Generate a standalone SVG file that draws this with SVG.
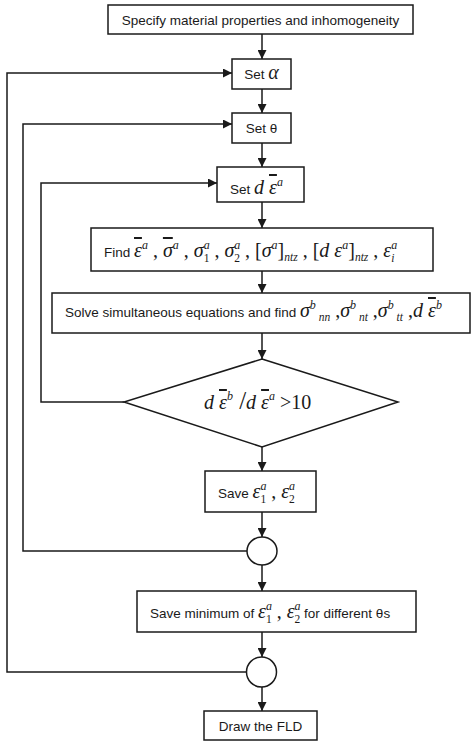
<svg xmlns="http://www.w3.org/2000/svg" width="474" height="743" viewBox="0 0 474 743">
<style>
.box{fill:#fff;stroke:#1a1a1a;stroke-width:1.5}
.ln{fill:none;stroke:#1a1a1a;stroke-width:1.5}
.s{font-family:"Liberation Sans",Arial,sans-serif;font-size:13.5px;fill:#1a1a1a;font-style:normal}
.m{font-family:"Liberation Serif","Times New Roman",serif;font-size:20px;fill:#1a1a1a}
.it{font-style:italic}
.ov{font-style:italic;text-decoration:overline}
.sp{font-size:12px;font-style:italic}
.sb{font-size:11.5px}
.sbi{font-size:11.5px;font-style:italic}
</style>
<defs>
<marker id="ah" markerUnits="userSpaceOnUse" markerWidth="9" markerHeight="9" refX="9" refY="4.5" orient="auto">
<path d="M0,0 L9,4.5 L0,9 z" fill="#1a1a1a"/>
</marker>
</defs>
<rect width="474" height="743" fill="#fff"/>
<g id="connectors">
<line class="ln" x1="262" y1="34" x2="262" y2="59" marker-end="url(#ah)"/>
<line class="ln" x1="262" y1="89" x2="262" y2="113" marker-end="url(#ah)"/>
<line class="ln" x1="262" y1="143" x2="262" y2="167" marker-end="url(#ah)"/>
<line class="ln" x1="262" y1="202" x2="262" y2="228" marker-end="url(#ah)"/>
<line class="ln" x1="262" y1="271" x2="262" y2="293" marker-end="url(#ah)"/>
<line class="ln" x1="262" y1="333" x2="262" y2="359" marker-end="url(#ah)"/>
<line class="ln" x1="262" y1="447" x2="262" y2="471" marker-end="url(#ah)"/>
<line class="ln" x1="262" y1="512" x2="262" y2="537" marker-end="url(#ah)"/>
<line class="ln" x1="262" y1="565" x2="262" y2="591" marker-end="url(#ah)"/>
<line class="ln" x1="262" y1="632" x2="262" y2="657" marker-end="url(#ah)"/>
<line class="ln" x1="262" y1="687" x2="262" y2="711" marker-end="url(#ah)"/>
<polyline class="ln" points="124,402 41,402 41,183 217,183" marker-end="url(#ah)"/>
<polyline class="ln" points="247,551 23,551 23,124 232,124" marker-end="url(#ah)"/>
<polyline class="ln" points="247,672 7,672 7,73 232,73" marker-end="url(#ah)"/>
</g>
<g id="n1">
<rect class="box" x="108" y="5" width="305" height="29"/>
<text class="s" x="260.5" y="24.5" text-anchor="middle">Specify material properties and inhomogeneity</text>
</g>
<g id="n2">
<rect class="box" x="232" y="59" width="59" height="30"/>
<text class="s" x="261.5" y="79" text-anchor="middle">Set <tspan class="m it" font-size="15px">α</tspan></text>
</g>
<g id="n3">
<rect class="box" x="232" y="113" width="59" height="30"/>
<text class="s" x="261.5" y="133" text-anchor="middle">Set θ</text>
</g>
<g id="n4">
<rect class="box" x="217" y="167" width="87" height="35"/>
<text class="s" x="230" y="194">Set <tspan class="m it" font-size="22px">d </tspan><tspan class="m ov" font-size="22px">ε</tspan><tspan class="m sp" dy="-8">a</tspan></text>
</g>
<g id="n5">
<rect class="box" x="91" y="228" width="342" height="43"/>
<text class="m" x="104" y="257"><tspan class="s">Find </tspan><tspan class="ov">ε</tspan><tspan class="sp" dy="-8">a</tspan><tspan dy="8"> , </tspan><tspan class="ov">σ</tspan><tspan class="sp" dy="-8">a</tspan><tspan dy="8"> , </tspan><tspan class="it">σ</tspan><tspan class="sp" dy="-8.5">a</tspan><tspan class="sb" dx="-6" dy="13">1</tspan><tspan dy="-4.5"> , </tspan><tspan class="it">σ</tspan><tspan class="sp" dy="-8.5">a</tspan><tspan class="sb" dx="-6" dy="13">2</tspan><tspan dy="-4.5"> , [</tspan><tspan class="it">σ</tspan><tspan class="sp" dy="-8">a</tspan><tspan dy="8">]</tspan><tspan class="sbi" dy="4">ntz</tspan><tspan dy="-4"> , [</tspan><tspan class="it">d ε</tspan><tspan class="sp" dy="-8">a</tspan><tspan dy="8">]</tspan><tspan class="sbi" dy="4">ntz</tspan><tspan dy="-4"> , </tspan><tspan class="it">ε</tspan><tspan class="sp" dy="-8.5">a</tspan><tspan class="sbi" dx="-6" dy="13">i</tspan></text>
</g>
<g id="n6">
<rect class="box" x="52" y="293" width="418" height="40"/>
<text class="m" x="65" y="317"><tspan class="s">Solve simultaneous equations and find </tspan><tspan class="it"> σ</tspan><tspan class="sp" dy="-8">b</tspan><tspan class="sbi" dy="12"> nn</tspan><tspan dy="-4"> ,</tspan><tspan class="it">σ</tspan><tspan class="sp" dy="-8">b</tspan><tspan class="sbi" dy="12"> nt</tspan><tspan dy="-4"> ,</tspan><tspan class="it">σ</tspan><tspan class="sp" dy="-8">b</tspan><tspan class="sbi" dy="12"> tt</tspan><tspan dy="-4"> ,</tspan><tspan class="it">d </tspan><tspan class="ov">ε</tspan><tspan class="sp" dy="-8">b</tspan></text>
</g>
<g id="n7">
<polygon class="box" points="262,359 398,402 262,447 124,402"/>
<text class="m" x="204" y="409" font-size="22px"><tspan class="it">d </tspan><tspan class="ov">ε</tspan><tspan class="sp" dy="-9" font-size="13px">b</tspan><tspan dy="9" font-size="25px"> /</tspan><tspan class="it">d </tspan><tspan class="ov">ε</tspan><tspan class="sp" dy="-9" font-size="13px">a</tspan><tspan dy="9"> &gt;10</tspan></text>
</g>
<g id="n8">
<rect class="box" x="205" y="471" width="111" height="41"/>
<text class="m" x="218" y="498"><tspan class="s">Save </tspan><tspan class="it">ε</tspan><tspan class="sp" dy="-8.5">a</tspan><tspan class="sb" dx="-6" dy="13">1</tspan><tspan dy="-4.5"> , </tspan><tspan class="it">ε</tspan><tspan class="sp" dy="-8.5">a</tspan><tspan class="sb" dx="-6" dy="13">2</tspan></text>
</g>
<g id="n9">
<ellipse class="box" cx="262" cy="551" rx="15" ry="14"/>
</g>
<g id="n10">
<rect class="box" x="137" y="591" width="279" height="41"/>
<text class="m" x="150" y="618"><tspan class="s">Save minimum of </tspan><tspan class="it">ε</tspan><tspan class="sp" dy="-8.5">a</tspan><tspan class="sb" dx="-6" dy="13">1</tspan><tspan dy="-4.5"> , </tspan><tspan class="it">ε</tspan><tspan class="sp" dy="-8.5">a</tspan><tspan class="sb" dx="-6" dy="13">2</tspan><tspan class="s" dy="-4.5"> for different θs</tspan></text>
</g>
<g id="n11">
<ellipse class="box" cx="261.5" cy="672" rx="15" ry="15"/>
</g>
<g id="n12">
<rect class="box" x="204" y="711" width="113" height="29"/>
<text class="s" x="260.5" y="730.5" text-anchor="middle">Draw the FLD</text>
</g>
</svg>
